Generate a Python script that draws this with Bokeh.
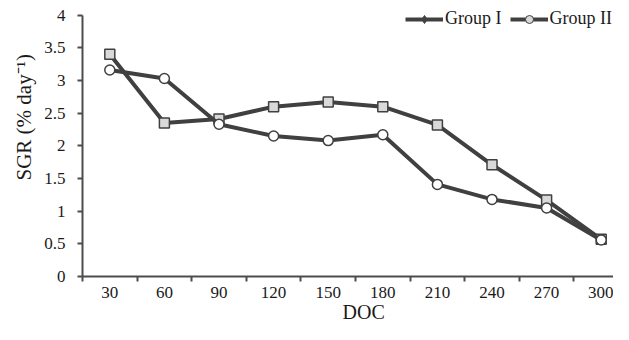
from bokeh.plotting import figure
from bokeh.models import Range1d, FixedTicker, Legend, LegendItem, Title
from bokeh.embed import file_html
from bokeh.resources import INLINE

# ---- data ----
doc = [30, 60, 90, 120, 150, 180, 210, 240, 270, 300]
group1 = [3.40, 2.35, 2.41, 2.60, 2.67, 2.60, 2.32, 1.71, 1.17, 0.57]
group2 = [3.16, 3.03, 2.33, 2.15, 2.08, 2.17, 1.41, 1.18, 1.05, 0.56]
y_ticks = [0, 0.5, 1, 1.5, 2, 2.5, 3, 3.5, 4]
x_label = "DOC"
y_label = "SGR (% day\u207b\u00b9)"
names = ["Group I", "Group II"]

FONT = "Liberation Serif"
DARK = "#404040"
AX = "#4d4d4d"
TXT = "#1a1a1a"

half = (doc[1] - doc[0]) / 2
p = figure(width=613, height=324, output_backend="svg", toolbar_location=None,
           x_range=Range1d(doc[0] - half, doc[-1] + half * 0.45),
           y_range=Range1d(y_ticks[0], y_ticks[-1] * 1.037),
           min_border_left=82, min_border_right=0, min_border_top=5, min_border_bottom=47)
p.outline_line_color = None
p.xgrid.visible = False
p.ygrid.visible = False
p.background_fill_color = "white"
p.border_fill_color = "white"

# series
r1 = p.line(doc, group1, line_color=DARK, line_width=4)
s1 = p.scatter(doc, group1, marker="square", size=10, fill_color="#d9d9d9", line_color=DARK, line_width=1.5)
r2 = p.line(doc, group2, line_color=DARK, line_width=4)
s2 = p.scatter(doc, group2, marker="circle", size=10, fill_color="white", line_color=DARK, line_width=1.5)

# legend-only marker styles (hidden renderers)
l1 = p.scatter(doc, group1, marker="diamond", size=9, fill_color=DARK, line_color=DARK, visible=False)
l2 = p.scatter(doc, group2, marker="circle", size=8, fill_color="#d9d9d9", line_color=DARK, line_width=1, visible=False)

legend = Legend(items=[LegendItem(label=names[0], renderers=[r1, l1]),
                       LegendItem(label=names[1], renderers=[r2, l2])],
                orientation="horizontal", location=(323, 247),
                background_fill_alpha=0, border_line_color=None,
                padding=0, margin=0, spacing=8, label_standoff=2,
                glyph_width=38, glyph_height=20, label_height=20,
                label_text_font=FONT, label_text_font_size="18px", label_text_color=TXT)
p.add_layout(legend, "center")

# x axis
xa = p.xaxis[0]
xa.ticker = FixedTicker(ticks=doc, minor_ticks=[d - half for d in doc] + [doc[-1] + half])
xa.major_tick_line_color = None
xa.minor_tick_line_color = AX
xa.minor_tick_line_width = 2
xa.minor_tick_out = 5
xa.minor_tick_in = 0
xa.axis_line_color = AX
xa.axis_line_width = 2
xa.major_label_text_font = FONT
xa.major_label_text_font_size = "17px"
xa.major_label_text_color = TXT
xa.major_label_standoff = 4

# y axis
ya = p.yaxis[0]
ya.ticker = FixedTicker(ticks=y_ticks, minor_ticks=[])
ya.bounds = (y_ticks[0], y_ticks[-1])
ya.major_tick_line_color = AX
ya.major_tick_line_width = 2
ya.major_tick_out = 5
ya.major_tick_in = 0
ya.axis_line_color = AX
ya.axis_line_width = 2
ya.major_label_text_font = FONT
ya.major_label_text_font_size = "17px"
ya.major_label_text_color = TXT
ya.major_label_standoff = 12

# axis titles placed like the reference (not centred)
yt = Title(text=y_label, align="left", offset=96, vertical_align="middle", standoff=10,
           text_font=FONT, text_font_size="21px", text_font_style="normal", text_color=TXT)
p.add_layout(yt, "left")
xt = Title(text=x_label, align="left", offset=260, vertical_align="top", standoff=0,
           text_font=FONT, text_font_size="20px", text_font_style="normal", text_color=TXT)
p.add_layout(xt, "below")

open("out.html", "w").write(file_html(p, INLINE))
